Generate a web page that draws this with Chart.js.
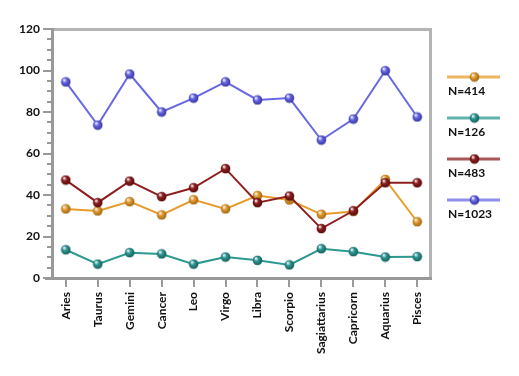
<!DOCTYPE html>
<html>
<head>
<meta charset="utf-8">
<script src="https://cdn.jsdelivr.net/npm/chart.js@4"></script>
<style>
  html, body { margin: 0; padding: 0; background: #fff; }
  #wrap { width: 519px; height: 376px; position: relative; }
</style>
</head>
<body>
<div id="wrap"><canvas id="signChart"></canvas></div>
<script>
// chart data
const signs = ["Aries", "Taurus", "Gemini", "Cancer", "Leo", "Virgo", "Libra", "Scorpio", "Sagiattarius", "Capricorn", "Aquarius", "Pisces"];
const seriesNames = ["N=414", "N=126", "N=483", "N=1023"];
const n414 = [33.3, 32.3, 36.8, 30.4, 37.7, 33.3, 39.7, 37.6, 30.7, 32.0, 47.5, 27.1];
const n126 = [13.6, 6.7, 12.2, 11.6, 6.7, 10.1, 8.5, 6.3, 14.1, 12.7, 10.1, 10.3];
const n483 = [47.2, 36.3, 46.7, 39.2, 43.5, 52.7, 36.3, 39.5, 23.8, 32.4, 45.9, 45.9];
const n1023 = [94.5, 73.7, 98.3, 80.0, 86.7, 94.5, 85.8, 86.7, 66.5, 76.6, 99.9, 77.6];
const yTicks = [0, 20, 40, 60, 80, 100, 120];

const colors = ["#e69c2c", "#2e9892", "#8e1f1f", "#6868e4"];
const darks = ["#8a5a10", "#10514d", "#4a0808", "#2a2a90"];

function sphere(color, dark) {
    let c = document.createElement("canvas");
    c.width = 11; c.height = 11;
    let g = c.getContext("2d");
    let grad = g.createRadialGradient(3.8, 3.4, 0.4, 5.5, 5.5, 5.6);
    grad.addColorStop(0, "#f4f4ff");
    grad.addColorStop(0.35, color);
    grad.addColorStop(1, dark);
    g.fillStyle = grad;
    g.beginPath();
    g.arc(5.5, 5.5, 4.8, 0, Math.PI * 2);
    g.fill();
    return c;
}

let allData = [n414, n126, n483, n1023];
let datasets = [];
for (let i = 0; i < allData.length; i++) {
    datasets.push({
        label: seriesNames[i],
        data: allData[i].map((v, k) => ({ x: k, y: v })),
        borderColor: colors[i],
        borderWidth: 2,
        pointStyle: sphere(colors[i], darks[i]),
        pointRadius: 5,
        tension: 0,
        order: [4, 3, 2, 1][i]
    });
}

const frameAndLegend = {
    id: "frameAndLegend",
    beforeDatasetsDraw(chart) {
        const ctx = chart.ctx;
        const a = chart.chartArea;
        const ys = chart.scales.y;
        const xs = chart.scales.x;
        ctx.save();
        // top and right border
        ctx.strokeStyle = "#b4b4b4";
        ctx.lineWidth = 3;
        ctx.beginPath();
        ctx.moveTo(a.left, a.top + 0.5);
        ctx.lineTo(a.right + 0.5, a.top + 0.5);
        ctx.lineTo(a.right + 0.5, a.bottom);
        ctx.stroke();
        // axes
        ctx.strokeStyle = "#999";
        ctx.beginPath();
        ctx.moveTo(a.left - 0.5, a.top - 1);
        ctx.lineTo(a.left - 0.5, a.bottom + 1);
        ctx.moveTo(a.left - 8, a.bottom + 0.5);
        ctx.lineTo(a.right + 2, a.bottom + 0.5);
        ctx.stroke();
        // y ticks
        ctx.lineWidth = 2;
        ctx.beginPath();
        for (let v = 0; v <= 120; v += 5) {
            let py = Math.round(ys.getPixelForValue(v));
            let len = v % 20 === 0 ? 9 : 5;
            ctx.moveTo(a.left - 1 - len, py);
            ctx.lineTo(a.left - 1, py);
        }
        // x ticks
        for (let k = 0; k < signs.length; k++) {
            let px = Math.round(xs.getPixelForValue(k));
            ctx.moveTo(px, a.bottom + 1);
            ctx.lineTo(px, a.bottom + 9);
        }
        ctx.stroke();
        ctx.restore();
    },
    afterDraw(chart) {
        const ctx = chart.ctx;
        const a = chart.chartArea;
        ctx.save();
        chart.data.datasets.forEach((ds, i) => {
            let y0 = a.top + 48 + i * 41;
            let x0 = a.right + 17;
            ctx.globalAlpha = 0.75;
            ctx.strokeStyle = ds.borderColor;
            ctx.lineWidth = 3;
            ctx.beginPath();
            ctx.moveTo(x0, y0);
            ctx.lineTo(x0 + 53, y0);
            ctx.stroke();
            ctx.globalAlpha = 1;
            ctx.drawImage(ds.pointStyle, x0 + 22, y0 - 5.5);
            ctx.fillStyle = "#111";
            ctx.font = "bold 12px Lato";
            ctx.textBaseline = "middle";
            ctx.fillText(ds.label, x0 + 1, y0 + 14);
        });
        ctx.restore();
    }
};

new Chart("signChart", {
    type: "line",
    data: { datasets: datasets },
    options: {
        responsive: true,
        maintainAspectRatio: false,
        animation: false,
        layout: { padding: { left: 0, top: 29, right: 89, bottom: 0 } },
        plugins: { legend: { display: false }, tooltip: { enabled: false } },
        scales: {
            x: {
                type: "linear",
                min: -0.4,
                max: 11.4,
                afterFit(scale) { scale.height = 98; },
                grid: { display: false, drawTicks: true, tickLength: 8 },
                border: { display: false },
                afterBuildTicks(scale) {
                    scale.ticks = signs.map((s, k) => ({ value: k }));
                },
                ticks: {
                    autoSkip: false,
                    minRotation: 90,
                    maxRotation: 90,
                    padding: 6,
                    color: "#111",
                    font: { family: "Lato", weight: "bold", size: 12 },
                    callback: (v) => signs[v]
                }
            },
            y: {
                min: 0,
                max: 120,
                afterFit(scale) { scale.width = 53; },
                grid: { display: false, drawTicks: true, tickLength: 9 },
                border: { display: false },
                afterBuildTicks(scale) {
                    scale.ticks = yTicks.map(v => ({ value: v }));
                },
                ticks: {
                    padding: 4,
                    color: "#111",
                    font: { family: "Lato", weight: "bold", size: 12 }
                }
            }
        }
    },
    plugins: [frameAndLegend]
});
</script>
</body>
</html>
